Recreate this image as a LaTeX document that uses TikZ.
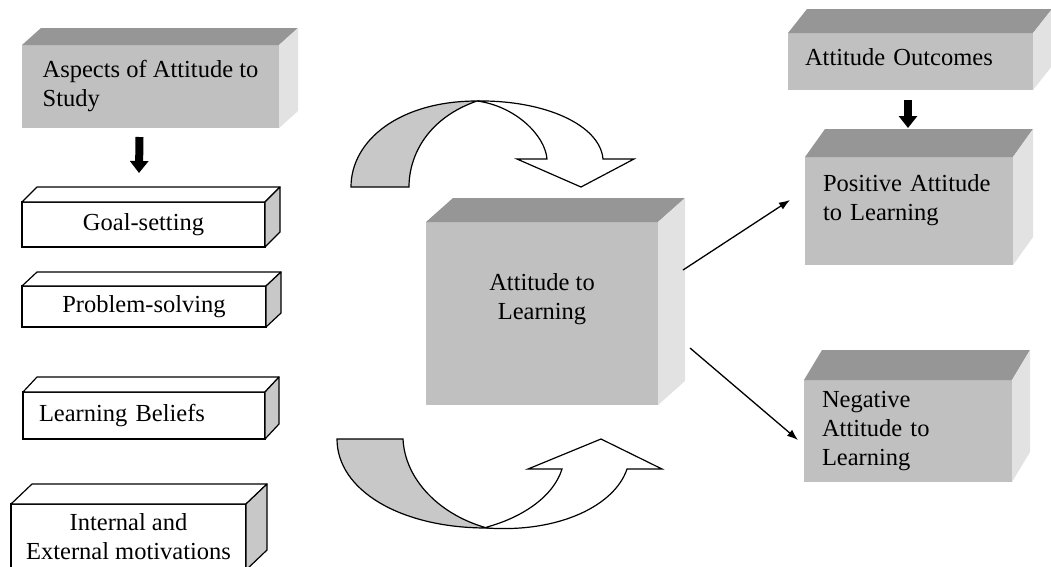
\documentclass[tikz,border=0pt]{standalone}
\usepackage{fontspec}
\setmainfont{Liberation Serif}
\usepackage{xcolor}
\usepackage{tikz}
\usetikzlibrary{arrows.meta}
\usetikzlibrary{calc}
\usetikzlibrary{positioning}

\definecolor{facegray}{RGB}{192,192,192}
\definecolor{topgray}{RGB}{150,150,150}
\definecolor{sidegray}{RGB}{226,226,226}
\definecolor{edgegray}{RGB}{200,200,200}

\begin{document}
\begin{tikzpicture}[x=1pt,y=-1pt,font=\fontsize{24.5}{29}\selectfont]
	\tikzstyle{solidbox}=[fill=facegray, inner sep=0pt, outer sep=0pt, anchor=north west]
	\tikzstyle{flatbox}=[draw, fill=white, line width=1.2pt, inner sep=0pt, outer sep=0pt, anchor=north west, align=center]
	\tikzstyle{faceline}=[line width=1.2pt, line join=round]
	\tikzstyle{blockarr}=[line width=8pt, -{Triangle[length=12pt,width=18pt]}]
	\tikzstyle{thinarr}=[line width=1.3pt, -{Latex[length=11pt,width=8pt]}]
	\tikzstyle{curvedarrow}=[draw, line width=1.2pt, line join=miter]

	\useasboundingbox (0,0) rectangle (1051,566);
	\clip (0,0) rectangle (1051,566);
	\fill[white] (0,0) rectangle (1051,566);

	% left column
	\node[solidbox, minimum width=257pt, minimum height=83pt, align=left] (aspects) at (22,45) {Aspects of Attitude to\\Study};
	\node[flatbox, minimum width=243pt, minimum height=45pt] (goal) at (22,202) {Goal-setting};
	\node[flatbox, minimum width=244pt, minimum height=41pt] (prob) at (22,286) {Problem-solving};
	\node[flatbox, minimum width=242pt, minimum height=47pt, inner xsep=16pt, text width=210pt, align=left] (beliefs) at (23,392) {Learning Beliefs};
	\node[flatbox, minimum width=235pt, minimum height=66pt] (motiv) at (11,504) {Internal and\\External motivations};

	% middle
	\node[solidbox, minimum width=232pt, minimum height=183pt, align=center, text depth=35pt] (attl) at (426,222) {Attitude to\\Learning};

	% right column
	\node[solidbox, minimum width=245pt, minimum height=57pt, inner xsep=17pt, text width=211pt, align=left, text depth=10pt] (outcomes) at (788,33) {Attitude Outcomes};
	\node[solidbox, minimum width=208pt, minimum height=108pt, inner xsep=18pt, text width=172pt, align=left, text depth=57pt] (pos) at (805,157) {Positive Attitude\\to Learning};
	\node[solidbox, minimum width=208pt, minimum height=102pt, inner xsep=18pt, text width=172pt, align=left] (neg) at (804,380) {Negative\\Attitude to\\Learning};

	% top and side faces
	\foreach \n/\dx/\dy in {aspects/19/17, outcomes/19/24, attl/27/24, pos/20/28, neg/18/30}{
		\fill[topgray] (\n.north west) -- ++(\dx,-\dy) -- ($(\n.north east)+(\dx,-\dy)$) -- (\n.north east) -- cycle;
		\fill[sidegray] (\n.north east) -- ++(\dx,-\dy) -- ($(\n.south east)+(\dx,-\dy)$) -- (\n.south east) -- cycle;
	}
	\foreach \n/\dx/\dy in {goal/15/15, prob/15/14, beliefs/14/15, motiv/21/20}{
		\filldraw[faceline, fill=white] (\n.north west) -- ++(\dx,-\dy) -- ($(\n.north east)+(\dx,-\dy)$) -- (\n.north east) -- cycle;
		\filldraw[faceline, fill=edgegray] (\n.north east) -- ++(\dx,-\dy) -- ($(\n.south east)+(\dx,-\dy)$) -- (\n.south east) -- cycle;
	}

	% arrows
	\draw[blockarr] ($(aspects.south)+(-11,9)$) -- ($(goal.north)+(-4.5,-29)$);
	\draw[blockarr] ($(outcomes.south)+(-2.5,10)$) -- ($(pos.north)+(-1,-29)$);
	\draw[thinarr] ($(attl.north east)+(25,48)$) -- ($(pos.west)+(-15,-11)$);
	\draw[thinarr] ($(attl.north east)+(32,126)$) -- ($(neg.west)+(-6,9)$);

	% curved arrows
	\filldraw[curvedarrow, fill=edgegray] (351,187) .. controls (351,140) and (400,101) .. (477,101) .. controls (428,118) and (409,155) .. (409,187) -- cycle;
	\filldraw[curvedarrow, fill=white] (477,101) .. controls (545,100) and (600,125) .. (603,159) -- (634,159) -- (581,187) -- (517,159) -- (547,159) .. controls (545,135) and (515,106) .. (477,101) -- cycle;

	\filldraw[curvedarrow, fill=edgegray] (337,439) .. controls (337,490) and (400,528) .. (487,528) .. controls (440,515) and (405,480) .. (403,439) -- cycle;
	\filldraw[curvedarrow, fill=white] (487,528) .. controls (560,533) and (615,505) .. (627,469) -- (662,469) -- (601,439) -- (528,469) -- (562,469) .. controls (553,498) and (520,518) .. (487,527) -- cycle;
\end{tikzpicture}
\end{document}
